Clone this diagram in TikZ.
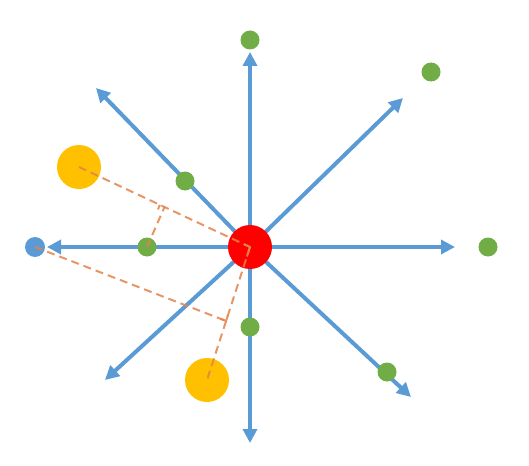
\documentclass[tikz,border=0pt]{standalone}
\usetikzlibrary{arrows.meta,calc}
\definecolor{axblue}{HTML}{5B9BD5}
\definecolor{dotgreen}{HTML}{70AD47}
\definecolor{dotyellow}{HTML}{FFC000}
\definecolor{dotred}{HTML}{FF0000}
\definecolor{dashor}{HTML}{E3834A}
\tikzset{
  axis/.style={draw=axblue,line width=4pt,-{Triangle[length=14pt,width=14pt]}},
  gdot/.style={circle,fill=dotgreen,inner sep=0pt,minimum size=19pt},
  ydot/.style={circle,fill=dotyellow,inner sep=0pt,minimum size=44pt},
  bdot/.style={circle,fill=axblue,inner sep=0pt,minimum size=20pt},
  rdot/.style={circle,fill=dotred,inner sep=0pt,minimum size=44pt},
  proj/.style={draw=dashor,line width=2pt,dash pattern=on 8pt off 5pt,opacity=0.85},
  rmark/.style={draw=dashor,line width=2pt,opacity=0.85}
}
\begin{document}
\begin{tikzpicture}[x=1pt,y=-1pt]
\useasboundingbox (0,0) rectangle (529,465);
\coordinate (o) at (250,247);
\coordinate (tU) at (250,52);
\coordinate (tD) at (250,443);
\coordinate (tL) at (47,247);
\coordinate (tR) at (455,247);
\coordinate (tUL) at (96,88);
\coordinate (tUR) at (403,98);
\coordinate (tDL) at (105,380);
\coordinate (tDR) at (411,397);
% axes
\foreach \t in {tU,tD,tL,tR,tUL,tUR,tDL,tDR} \draw[axis] (o) -- (\t);
% dots
\node[gdot] (gU) at (250,40) {};
\node[gdot] (gUR) at (431,72) {};
\node[gdot] (gR) at (488,247) {};
\node[gdot] (gUL) at (185,181) {};
\node[gdot] (gL) at (147,247) {};
\node[gdot] (gD) at (250,327) {};
\node[gdot] (gDR) at (387,372) {};
\node[bdot] (b) at (35,247) {};
\node[ydot] (y1) at (79,167) {};
\node[ydot] (y2) at (207,380) {};
\node[rdot] (c) at (o) {};
% projection lines
\coordinate (f1) at ($(y1.center)!0.5!(o)$);
\coordinate (f2) at ($(o)!0.556!(y2.center)$);
\draw[proj] (y1.center) -- (o);
\draw[proj] (o) -- (y2.center);
\draw[proj] (gL.center) -- (f1);
\draw[proj] (b.center) -- (f2);
\draw[rmark] ($(o)!7pt!(y1.center)$) -- (o) -- ($(o)!10pt!(y2.center)$);
\draw[rmark] ($(f1)!5pt!(y1.center)$) -- ($(f1)!5pt!(y1.center)!5pt!90:(y1.center)$);
\draw[rmark] ($(f2)!6pt!(b.center)$) -- (f2) -- ($(f2)!6pt!(o)$);
\end{tikzpicture}
\end{document}
